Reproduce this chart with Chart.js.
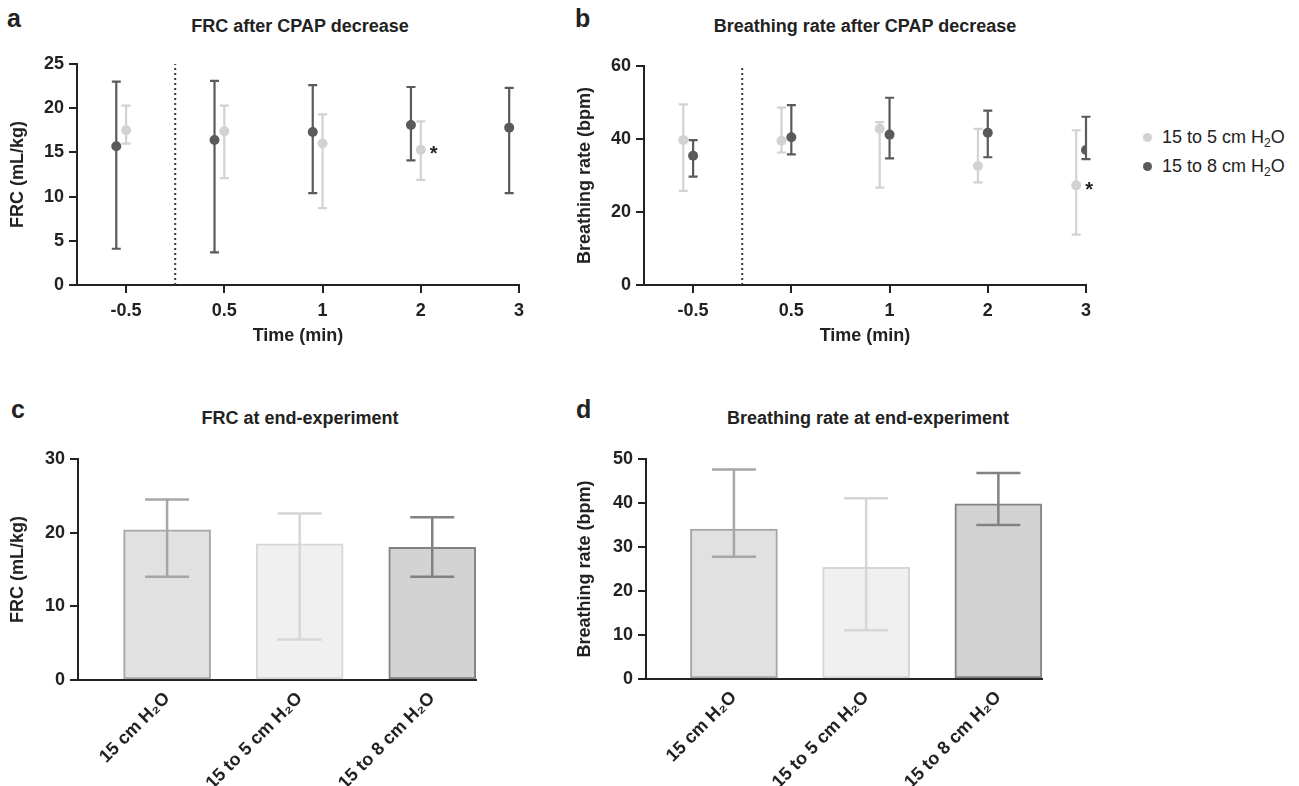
<!DOCTYPE html>
<html><head><meta charset="utf-8">
<script src="https://cdn.jsdelivr.net/npm/chart.js@4.4.1/dist/chart.umd.min.js"></script>
<style>
html,body{margin:0;padding:0;background:#fff;}
#wrap{position:relative;width:1299px;height:786px;overflow:hidden;font-family:'Liberation Sans',Arial,Helvetica,sans-serif;color:#222;}
canvas{position:absolute;}
.letter{position:absolute;font-weight:bold;font-size:25px;line-height:25px;}
.title{position:absolute;font-weight:bold;font-size:18px;line-height:20px;text-align:center;width:500px;white-space:nowrap;}
.legend{position:absolute;left:1143px;top:127px;font-size:18px;line-height:20px;}
.legend .row{position:relative;height:29px;padding-left:19px;white-space:nowrap;}
.legend .dot{position:absolute;left:0;top:5.5px;width:9px;height:9px;border-radius:50%;}
.legend sub{font-size:12px;vertical-align:-4px;line-height:0;}
</style></head>
<body>
<div id="wrap">
  <div class="letter" style="left:7px;top:6px">a</div>
  <div class="letter" style="left:575px;top:6px">b</div>
  <div class="letter" style="left:11px;top:397px">c</div>
  <div class="letter" style="left:576px;top:397px">d</div>
  <div class="title" style="left:50px;top:16px">FRC after CPAP decrease</div>
  <div class="title" style="left:615px;top:16px">Breathing rate after CPAP decrease</div>
  <div class="title" style="left:50px;top:408px">FRC at end-experiment</div>
  <div class="title" style="left:618px;top:408px">Breathing rate at end-experiment</div>
  <div class="legend" id="legend"></div>
  <canvas id="cA" width="560" height="380" style="left:0;top:0"></canvas>
  <canvas id="cB" width="560" height="380" style="left:560px;top:0"></canvas>
  <canvas id="cC" width="560" height="396" style="left:0;top:390px"></canvas>
  <canvas id="cD" width="560" height="396" style="left:560px;top:390px"></canvas>
</div>
<script>
// ---------- data ----------
const timeLabels = ['-0.5', '0.5', '1', '2', '3'];
const seriesNames = ['15 to 5 cm H\u2082O', '15 to 8 cm H\u2082O'];

// FRC after CPAP decrease (mL/kg)
const frc5Mean = [17.5, 17.4, 16.0, 15.3];
const frc5Low  = [16.0, 12.1, 8.7, 11.9];
const frc5High = [20.3, 20.3, 19.3, 18.5];
const frc8Mean = [15.7, 16.4, 17.3, 18.1, 17.8];
const frc8Low  = [4.1, 3.7, 10.4, 14.1, 10.4];
const frc8High = [23.0, 23.1, 22.6, 22.4, 22.3];
const frc5Stars = [3];

// Breathing rate after CPAP decrease (bpm)
const br5Mean = [39.7, 39.5, 42.8, 32.6, 27.3];
const br5Low  = [25.8, 36.3, 26.7, 28.1, 13.8];
const br5High = [49.5, 48.6, 44.6, 42.8, 42.4];
const br8Mean = [35.4, 40.5, 41.2, 41.7, 37.0];
const br8Low  = [29.7, 35.8, 34.7, 35.0, 34.5];
const br8High = [39.7, 49.3, 51.3, 47.8, 46.1];
const br5Stars = [4];

// End-experiment
const groupLabels = ['15 cm H\u2082O', '15 to 5 cm H\u2082O', '15 to 8 cm H\u2082O'];
const frcEndMean = [20.4, 18.5, 18.0];
const frcEndLow  = [14.0, 5.5, 14.0];
const frcEndHigh = [24.5, 22.6, 22.1];
const brEndMean = [34.1, 25.4, 39.8];
const brEndLow  = [27.8, 11.1, 35.0];
const brEndHigh = [47.6, 41.1, 46.8];

// ---------- styles ----------
const AX = '#222222';
const FONT = "'Liberation Sans', Arial, Helvetica, sans-serif";
const LIGHT = '#d2d2d2';
const DARK = '#5a5a5a';
const barFill = ['#e1e1e1', '#f0f0f0', '#d3d3d3'];
const barBorder = ['#a6a6a6', '#d6d6d6', '#828282'];
const SHIFT = 0.1;

Chart.defaults.font.family = FONT;
Chart.defaults.color = AX;
Chart.defaults.animation = false;

// legend (html)
document.getElementById('legend').innerHTML = seriesNames.map((n, i) =>
  '<div class="row"><span class="dot" style="background:' + (i === 0 ? LIGHT : DARK) + '"></span>' +
  n.replace('\u2082', '<sub>2</sub>') + '</div>').join('');

// ---------- plugins ----------
const errorBars = {
  id: 'errorBars',
  beforeDatasetDraw(chart, args) { draw(chart, args, false); },
  afterDatasetDraw(chart, args) { draw(chart, args, true); }
};
function draw(chart, args, top) {
  const ds = chart.data.datasets[args.index];
  if (!ds.errLow || !!ds.errOnTop !== top) return;
  const yS = chart.scales.y, ctx = chart.ctx;
  ctx.save();
  args.meta.data.forEach((el, i) => {
    const lo = ds.errLow[i], hi = ds.errHigh[i];
    if (lo == null || hi == null) return;
    const x = el.x, y1 = yS.getPixelForValue(lo), y2 = yS.getPixelForValue(hi);
    const cw = ds.capWidth / 2;
    ctx.strokeStyle = Array.isArray(ds.errColor) ? ds.errColor[i] : ds.errColor;
    ctx.lineWidth = ds.errWidth;
    ctx.beginPath();
    ctx.moveTo(x, y1); ctx.lineTo(x, y2);
    ctx.moveTo(x - cw, y1); ctx.lineTo(x + cw, y1);
    ctx.moveTo(x - cw, y2); ctx.lineTo(x + cw, y2);
    ctx.stroke();
  });
  ctx.restore();
}
const stars = {
  id: 'stars',
  afterDatasetsDraw(chart) {
    const ctx = chart.ctx;
    chart.data.datasets.forEach((ds, di) => {
      if (!ds.stars) return;
      const meta = chart.getDatasetMeta(di);
      ds.stars.forEach(i => {
        const el = meta.data[i];
        if (!el) return;
        ctx.save();
        ctx.font = 'bold 20px ' + FONT;
        ctx.fillStyle = AX;
        ctx.textAlign = 'left';
        ctx.textBaseline = 'middle';
        ctx.fillText('*', el.x + 9, el.y + 5);
        ctx.restore();
      });
    });
  }
};

// ---------- axis helpers ----------
function yAxis(max, step, title, width, titlePad) {
  return {
    min: 0, max: max,
    ticks: { stepSize: step, font: { size: 18, weight: 'bold' }, padding: 5, color: AX },
    grid: { display: true, drawOnChartArea: false, drawTicks: true, tickLength: 8, color: AX, lineWidth: 2 },
    border: { display: true, color: AX, width: 2 },
    title: { display: true, text: title, font: { size: 18, weight: 'bold' }, padding: { top: titlePad, bottom: 0 }, color: AX },
    afterFit(s) { s.width = width; }
  };
}
function xTime(height) {
  return {
    type: 'linear', min: -0.5, max: timeLabels.length - 1, offset: false,
    afterBuildTicks(s) { s.ticks = timeLabels.map((_, i) => ({ value: i })); },
    ticks: { callback: v => timeLabels[v], font: { size: 18, weight: 'bold' }, padding: 7, autoSkip: false, maxRotation: 0, minRotation: 0, color: AX },
    grid: { display: true, drawOnChartArea: false, drawTicks: true, tickLength: 8, color: AX, lineWidth: 2, offset: false },
    border: { display: true, color: AX, width: 2 },
    title: { display: true, text: 'Time (min)', font: { size: 18, weight: 'bold' }, padding: { top: 0, bottom: 0 }, color: AX },
    afterFit(s) { s.height = height; }
  };
}
function xGroups(min, max, height) {
  return {
    type: 'linear', min: min, max: max, offset: false,
    afterBuildTicks(s) { s.ticks = groupLabels.map((_, i) => ({ value: i })); },
    ticks: { callback: v => groupLabels[v], font: { size: 18, weight: 'bold' }, padding: 8, autoSkip: false, maxRotation: 45, minRotation: 45, color: AX },
    grid: { display: false, drawTicks: false, offset: false },
    border: { display: true, color: AX, width: 2 },
    afterFit(s) { s.height = height; }
  };
}
function pts(means, shift) { return means.map((v, i) => ({ x: i + shift, y: v })); }
function pointSet(label, means, lo, hi, shift, color, starIdx) {
  return {
    label: label, data: pts(means, shift), backgroundColor: color, borderColor: color,
    pointRadius: 5, pointBorderWidth: 0, showLine: false,
    errLow: lo, errHigh: hi, errColor: color, errWidth: 2.2, capWidth: 9, stars: starIdx
  };
}
function breakLine(max) {
  const bx = 0.5; // between the pre-change point and the first post-change point
  return { label: 'break', data: [{ x: bx, y: 0 }, { x: bx, y: max }], showLine: true,
    borderColor: '#3a3a3a', borderWidth: 2, borderDash: [2, 3], pointRadius: 0, fill: false };
}
const common = { responsive: false, animation: false, events: [],
  plugins: { legend: { display: false }, tooltip: { enabled: false }, title: { display: false } } };

// ---------- panel a ----------
new Chart(document.getElementById('cA'), {
  type: 'scatter',
  data: { datasets: [
    breakLine(25),
    pointSet(seriesNames[1], frc8Mean, frc8Low, frc8High, -SHIFT, DARK),
    pointSet(seriesNames[0], frc5Mean, frc5Low, frc5High, 0, LIGHT, frc5Stars)
  ] },
  options: Object.assign({}, common, {
    layout: { padding: { left: 0, top: 64, right: 41, bottom: 33 } },
    scales: { x: xTime(62), y: yAxis(25, 5, 'FRC (mL/kg)', 77, 7) }
  }),
  plugins: [errorBars, stars]
});

// ---------- panel b ----------
new Chart(document.getElementById('cB'), {
  type: 'scatter',
  data: { datasets: [
    breakLine(60),
    pointSet(seriesNames[0], br5Mean, br5Low, br5High, -SHIFT, LIGHT, br5Stars),
    pointSet(seriesNames[1], br8Mean, br8Low, br8High, 0, DARK)
  ] },
  options: Object.assign({}, common, {
    layout: { padding: { left: 0, top: 66, right: 34, bottom: 33 } },
    scales: { x: xTime(62), y: yAxis(60, 20, 'Breathing rate (bpm)', 84, 14) }
  }),
  plugins: [errorBars, stars]
});

// ---------- panel c ----------
function barSet(means, lo, hi) {
  return {
    data: means.map((v, i) => ({ x: i, y: v })),
    backgroundColor: barFill, borderColor: barBorder, borderWidth: 2, borderSkipped: false,
    barThickness: 87, errLow: lo, errHigh: hi, errColor: barBorder, errWidth: 2.5, capWidth: 44, errOnTop: true
  };
}
new Chart(document.getElementById('cC'), {
  type: 'bar',
  data: { datasets: [barSet(frcEndMean, frcEndLow, frcEndHigh)] },
  options: Object.assign({}, common, {
    layout: { padding: { left: 0, top: 69, right: 84, bottom: 0 } },
    scales: { x: xGroups(-0.672, 2.33, 106), y: yAxis(30, 10, 'FRC (mL/kg)', 78, 7) }
  }),
  plugins: [errorBars]
});

// ---------- panel d ----------
new Chart(document.getElementById('cD'), {
  type: 'bar',
  data: { datasets: [barSet(brEndMean, brEndLow, brEndHigh)] },
  options: Object.assign({}, common, {
    layout: { padding: { left: 0, top: 69, right: 78, bottom: 0 } },
    scales: { x: xGroups(-0.665, 2.33, 107), y: yAxis(50, 10, 'Breathing rate (bpm)', 86, 14) }
  }),
  plugins: [errorBars]
});
</script>
</body></html>
